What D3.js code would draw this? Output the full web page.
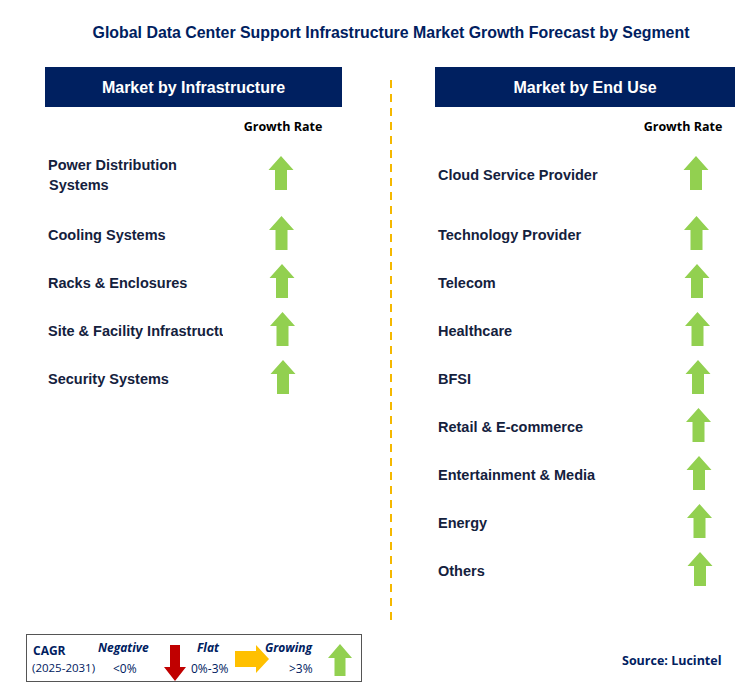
<!DOCTYPE html><html><head><meta charset="utf-8"><script src="https://d3js.org/d3.v7.min.js"></script>
<style>body{margin:0;background:#fff}</style></head><body><svg id="c" width="751" height="697"></svg>
<script>
const title="Global Data Center Support Infrastructure Market Growth Forecast by Segment";
const infraCats=[["Power Distribution","Systems"],["Cooling Systems"],["Racks & Enclosures"],["Site & Facility Infrastructure"],["Security Systems"]];
const infraGrowth=["Growing","Growing","Growing","Growing","Growing"];
const endCats=["Cloud Service Provider","Technology Provider","Telecom","Healthcare","BFSI","Retail & E-commerce","Entertainment & Media","Energy","Others"];
const endGrowth=["Growing","Growing","Growing","Growing","Growing","Growing","Growing","Growing","Growing"];
const navy="#002060", txt="#14213d", green="#92d050";
const svg=d3.select("#c");
const F="Arial, 'Liberation Sans', sans-serif";
svg.append("text").attr("x",391).attr("y",38).attr("text-anchor","middle").attr("font-family",F).attr("font-weight","bold").attr("font-size",15.9).attr("fill",navy).text(title);
function up(g,cx,top,h,hw,sw,hh,col){
  const p=d3.path();p.moveTo(cx,top);p.lineTo(cx+hw/2,top+hh);p.lineTo(cx+sw/2,top+hh);p.lineTo(cx+sw/2,top+h);p.lineTo(cx-sw/2,top+h);p.lineTo(cx-sw/2,top+hh);p.lineTo(cx-hw/2,top+hh);p.closePath();
  g.append("path").attr("d",p.toString()).attr("fill",col);
}
const defs=svg.append("defs");
defs.append("clipPath").attr("id","lc").append("rect").attr("x",40).attr("y",100).attr("width",183).attr("height",400);
function panel(x0,w,head,cats,growth,arrowX,labelX,clip){
  svg.append("rect").attr("x",x0).attr("y",67).attr("width",w).attr("height",40).attr("fill",navy);
  svg.append("text").attr("x",x0+w/2).attr("y",93).attr("text-anchor","middle").attr("font-family",F).attr("font-weight","bold").attr("font-size",16).attr("fill","#fff").text(head);
  svg.append("text").attr("x",labelX).attr("y",131).attr("text-anchor","middle").attr("font-family","'Open Sans',"+F).attr("font-weight","bold").attr("font-size",12.5).attr("fill","#000").text("Growth Rate");
  const y=d3.scaleLinear().domain([1,cats.length-1]).range([235,235+48*(cats.length-2)]);
  const g=svg.append("g");
  cats.forEach((c,i)=>{
    const yy=i===0?175:y(i);
    const lines=Array.isArray(c)?c:[c];
    const t=g.append("text").attr("font-family",F).attr("font-weight","bold").attr("font-size",14.5).attr("fill",txt);
    if(clip)t.attr("clip-path","url(#lc)");
    lines.forEach((l,k)=>t.append("tspan").attr("x",x0+3+(k>0?1:0)).attr("y",yy+5+(k-(lines.length-1)/2)*20).text(l));
    if(growth[i]==="Growing")up(g,arrowX+i*0.5,yy-19,34,25,12,14,green);
  });
}
panel(45,297,"Market by Infrastructure",infraCats,infraGrowth,281,283,true);
panel(435,300,"Market by End Use",endCats,endGrowth,696,683,false);
svg.append("line").attr("x1",391).attr("x2",391).attr("y1",80).attr("y2",620).attr("stroke","#f5b800").attr("stroke-width",2).attr("stroke-dasharray","8,6");
svg.append("rect").attr("x",26.5).attr("y",634.5).attr("width",335).attr("height",47).attr("fill","#fff").attr("stroke","#555");
const L=(x,y,s,o={})=>svg.append("text").attr("x",x).attr("y",y).attr("font-family","'Open Sans',"+F).attr("font-size",o.fs||12).attr("font-weight",o.b?"bold":"normal").attr("font-style",o.i?"italic":"normal").attr("fill",navy).text(s);
L(33,655,"CAGR",{b:1});L(32,672,"(2025-2031)",{fs:11.5});
L(98,652,"Negative",{b:1,i:1});L(113,673,"<0%");
L(197,652,"Flat",{b:1,i:1});L(191,673,"0%-3%");
L(265,652,"Growing",{b:1,i:1});L(289,673,">3%");
(function(){const cx=175,top=645,p=d3.path();p.moveTo(cx-5,top);p.lineTo(cx+5,top);p.lineTo(cx+5,top+22);p.lineTo(cx+11,top+22);p.lineTo(cx,top+36);p.lineTo(cx-11,top+22);p.lineTo(cx-5,top+22);p.closePath();svg.append("path").attr("d",p.toString()).attr("fill","#c00000");})();
(function(){const l=235,cy=659,p=d3.path();p.moveTo(l,cy-8);p.lineTo(l+21,cy-8);p.lineTo(l+21,cy-14);p.lineTo(l+34,cy);p.lineTo(l+21,cy+14);p.lineTo(l+21,cy+8);p.lineTo(l,cy+8);p.closePath();svg.append("path").attr("d",p.toString()).attr("fill","#ffc000");})();
up(svg,340,644,32,24,11,14,green);
svg.append("text").attr("x",622).attr("y",665).attr("font-family","'Open Sans',"+F).attr("font-weight","bold").attr("font-size",12.5).attr("fill",navy).text("Source: Lucintel");
</script></body></html>
